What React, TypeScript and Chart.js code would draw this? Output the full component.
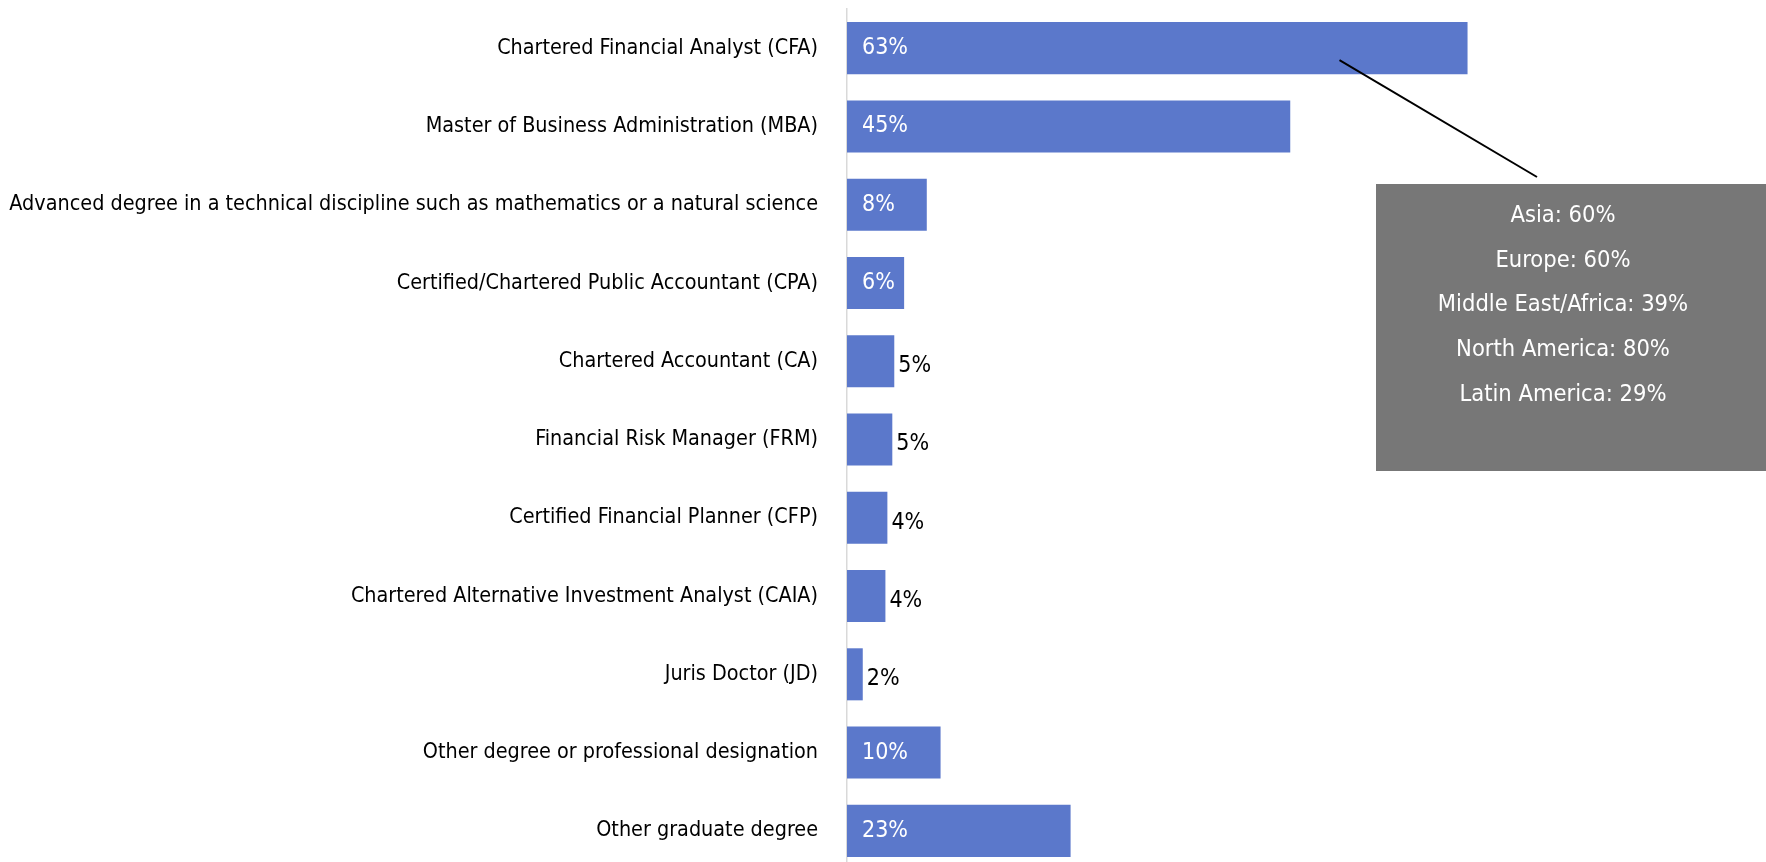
import React, { useEffect, useRef } from 'react';
import { Chart, registerables } from 'chart.js';

Chart.register(...registerables);

const FONT = "'Liberation Sans Narrow', 'DejaVu Sans Condensed', 'Open Sans', sans-serif";

const categories = [
  'Chartered Financial Analyst (CFA)',
  'Master of Business Administration (MBA)',
  'Advanced degree in a technical discipline such as mathematics or a natural science',
  'Certified/Chartered Public Accountant (CPA)',
  'Chartered Accountant (CA)',
  'Financial Risk Manager (FRM)',
  'Certified Financial Planner (CFP)',
  'Chartered Alternative Investment Analyst (CAIA)',
  'Juris Doctor (JD)',
  'Other degree or professional designation',
  'Other graduate degree',
];

const values = [63, 45, 8.1, 5.8, 4.8, 4.6, 4.1, 3.9, 1.6, 9.5, 22.7];

const valueLabels = ['63%', '45%', '8%', '6%', '5%', '5%', '4%', '4%', '2%', '10%', '23%'];

const calloutLines = [
  'Asia: 60%',
  'Europe: 60%',
  'Middle East/Africa: 39%',
  'North America: 80%',
  'Latin America: 29%',
];

const BAR_COLOR = '#5B78CB';
const CALLOUT_COLOR = '#777777';

const dataLabelPlugin = {
  id: 'dataLabels',
  afterDatasetsDraw(chart: any) {
    const meta = chart.getDatasetMeta(0);
    const ctx = chart.ctx;
    ctx.save();
    ctx.font = `23px ${FONT}`;
    ctx.textBaseline = 'middle';
    ctx.textAlign = 'left';
    meta.data.forEach((bar: any, i: number) => {
      const { x, y, base } = bar.getProps(['x', 'y', 'base'], true);
      if (values[i] >= 5.5) {
        ctx.fillStyle = '#ffffff';
        ctx.fillText(valueLabels[i], base + 15, y);
      } else {
        ctx.fillStyle = '#000000';
        ctx.fillText(valueLabels[i], x + 4, y + 5);
      }
    });
    ctx.restore();
  },
};

const calloutPlugin = {
  id: 'callout',
  afterDraw(chart: any) {
    const ctx = chart.ctx;
    const xScale = chart.scales.x;
    const meta = chart.getDatasetMeta(0);
    const bar = meta.data[0];
    const boxLeft = 1376;
    const boxTop = 184;
    const boxRight = chart.width;
    const boxBottom = 471;
    ctx.save();
    // leader line
    ctx.strokeStyle = '#000000';
    ctx.lineWidth = 2;
    ctx.beginPath();
    ctx.moveTo(xScale.getPixelForValue(50), bar.y + 12);
    ctx.lineTo(1537, 177);
    ctx.stroke();
    // box
    ctx.fillStyle = CALLOUT_COLOR;
    ctx.fillRect(boxLeft, boxTop, boxRight - boxLeft, boxBottom - boxTop);
    ctx.fillStyle = '#ffffff';
    ctx.font = `23.5px ${FONT}`;
    ctx.textAlign = 'center';
    ctx.textBaseline = 'middle';
    calloutLines.forEach((line, i) => {
      ctx.fillText(line, 1563, 216 + i * 44.6);
    });
    ctx.restore();
  },
};

export default function App() {
  const canvasRef = useRef<HTMLCanvasElement | null>(null);

  useEffect(() => {
    if (!canvasRef.current) return;
    const chart = new Chart(canvasRef.current, {
      type: 'bar',
      data: {
        labels: categories,
        datasets: [
          {
            data: values,
            backgroundColor: BAR_COLOR,
            barPercentage: 0.665,
            categoryPercentage: 1,
          },
        ],
      },
      options: {
        indexAxis: 'y',
        responsive: true,
        maintainAspectRatio: false,
        animation: false,
        layout: { padding: { top: 9, bottom: 0, left: 0, right: 0 } },
        plugins: {
          legend: { display: false },
          tooltip: { enabled: false },
        },
        scales: {
          x: { display: false, min: 0, max: 93.3 },
          y: {
            afterFit: (s: any) => {
              s.width = 847;
              s.paddingTop = 0;
              s.paddingBottom = 0;
            },
            grid: { display: false, drawTicks: false },
            border: { display: true, color: '#d9d9d9', width: 1.5 },
            ticks: {
              padding: 29,
              color: '#000000',
              autoSkip: false,
              font: { family: FONT, size: 21.4 },
            },
          },
        },
      },
      plugins: [dataLabelPlugin, calloutPlugin],
    });
    return () => chart.destroy();
  }, []);

  return (
    <div
      style={{
        position: 'fixed',
        top: 0,
        left: 0,
        width: 1766,
        height: 862,
        overflow: 'hidden',
        background: '#ffffff',
      }}
    >
      <div style={{ position: 'relative', width: 1766, height: 870 }}>
        <canvas ref={canvasRef} />
      </div>
    </div>
  );
}
